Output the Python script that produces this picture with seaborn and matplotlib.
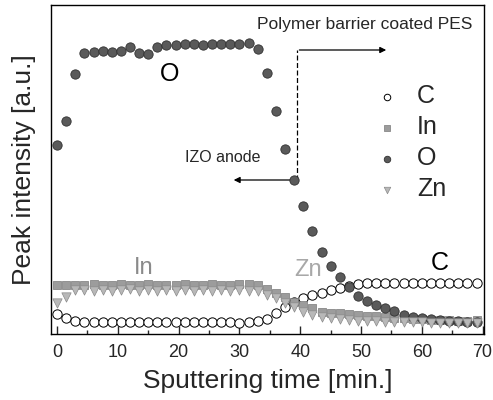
import numpy as np
import pandas as pd
import matplotlib
matplotlib.use("Agg")
import matplotlib.pyplot as plt
import seaborn as sns

# ---- data (arbitrary units) ----
time_min = [0, 1.5, 3, 4.5, 6, 7.5, 9, 10.5, 12, 13.5, 15, 16.5, 18, 19.5, 21, 22.5,
            24, 25.5, 27, 28.5, 30, 31.5, 33, 34.5, 36, 37.5, 39, 40.5, 42, 43.5, 45,
            46.5, 48, 49.5, 51, 52.5, 54, 55.5, 57, 58.5, 60, 61.5, 63, 64.5, 66, 67.5, 69]

c_vals = [20, 16, 13.5, 12.5, 12, 12, 12, 12, 12, 12, 12, 12, 12, 12, 12, 12,
          12, 12, 12, 12, 11.5, 11.7, 13.3, 15, 20.7, 26.7, 31.7, 35.7, 39, 41.3, 44,
          45.7, 48, 49.7, 50.7, 50.7, 50.7, 50.7, 50.7, 50.7, 50.7, 50.7, 50.7, 50.7, 50.7, 50.7, 50.7]

in_vals = [49, 49, 49.5, 49, 50, 49, 49.5, 50, 49, 49, 50, 49.5, 49, 49.5, 50, 49,
           49, 50, 49.5, 49, 50, 50.5, 49, 45, 40.7, 36.7, 32.3, 29, 25.7, 22.3, 21.3,
           20.7, 20, 19, 18.5, 18, 17, 16.5, 16, 15, 15, 14.5, 14, 14, 13.5, 13.5, 14]

o_vals = [189, 213, 260, 281, 282, 283, 282, 283, 287, 281, 280, 287, 289, 289, 290, 290,
          289, 290, 290, 290, 290, 291, 285, 261, 223, 185, 154, 128, 103, 82, 68,
          57, 47, 38, 33, 29, 26, 23, 19, 17.5, 16.5, 15, 14, 13, 13, 12.5, 12]

zn_vals = [31, 37.5, 44, 44, 43, 44.5, 43, 44, 45, 43.5, 44, 43, 44.5, 43, 44, 43.5,
           44, 43, 44, 43.5, 44, 43, 43, 39, 36, 30.7, 27.3, 22.3, 19, 17.5, 16,
           14.7, 14, 13.5, 13, 13, 12.5, 12.5, 12, 12, 12, 11.5, 11.5, 11, 11, 11, 11]

series_names = ["C", "In", "O", "Zn"]
x_ticks = [0, 10, 20, 30, 40, 50, 60, 70]

sns.set_style("ticks")
plt.rcParams["font.family"] = ["Liberation Sans", "DejaVu Sans"]

fig = plt.figure(figsize=(4.93, 4.0), dpi=100)
ax = fig.add_axes([0.1034, 0.165, 0.878, 0.8225])

df = pd.DataFrame({"t": time_min, "C": c_vals, "In": in_vals, "O": o_vals, "Zn": zn_vals})

styles = {
    "C":  dict(marker="o", color="white", edgecolor="black", linewidth=0.7, s=45, zorder=3),
    "In": dict(marker="s", color="#9c9c9c", edgecolor="#7a7a7a", linewidth=0.5, s=40, zorder=4),
    "O":  dict(marker="o", color="#5a5a5a", edgecolor="#303030", linewidth=0.6, s=45, zorder=5),
    "Zn": dict(marker="v", color="#b8b8b8", edgecolor="#8a8a8a", linewidth=0.5, s=45, zorder=6),
}
for name in series_names:
    sns.scatterplot(data=df, x="t", y=name, ax=ax, label=name, **styles[name])

ax.set_xlim(-1.0, 70.2)
ax.set_ylim(0, 329)
ax.set_xticks(x_ticks)
ax.set_xticks([5, 15, 25, 35, 45, 55, 65], minor=True)
ax.set_yticks([])
ax.tick_params(axis="x", which="major", direction="in", length=6, width=1, labelsize=13, pad=7)
ax.tick_params(axis="x", which="minor", direction="in", length=3, width=1)
for sp in ax.spines.values():
    sp.set_linewidth(1.0)
    sp.set_color("black")
    sp.set_visible(True)

ax.set_xlabel("Sputtering time [min.]", fontsize=19, labelpad=6)
ax.set_ylabel("Peak intensity [a.u.]", fontsize=19, labelpad=11)

# in-plot labels
ax.text(18.5, 260, "O", fontsize=18, color="black", ha="center", va="center")
ax.text(14.2, 66, "In", fontsize=17, color="#8a8a8a", ha="center", va="center")
ax.text(41.3, 64, "Zn", fontsize=17, color="#a8a8a8", ha="center", va="center")
ax.text(63.0, 71, "C", fontsize=18, color="black", ha="center", va="center")

# annotations
ax.text(50.6, 309, "Polymer barrier coated PES", fontsize=12.5, ha="center", va="center")
ax.plot([39.4, 39.4], [154, 284], ls=(0, (4, 2)), color="black", lw=0.9, zorder=2)
ax.annotate("", xy=(54.6, 284), xytext=(39.4, 284),
            arrowprops=dict(arrowstyle="-|>", color="black", lw=0.9, mutation_scale=9))
ax.text(27.3, 176, "IZO anode", fontsize=11.5, ha="center", va="center")
ax.annotate("", xy=(28.6, 154), xytext=(39.2, 154),
            arrowprops=dict(arrowstyle="-|>", color="black", lw=0.9, mutation_scale=9))

leg = ax.legend(loc="upper left", bbox_to_anchor=(0.695, 0.79), frameon=False,
                fontsize=18, handletextpad=0.2, labelspacing=0.28, markerscale=0.7,
                borderaxespad=0)

fig.savefig("out.png", dpi=100)
